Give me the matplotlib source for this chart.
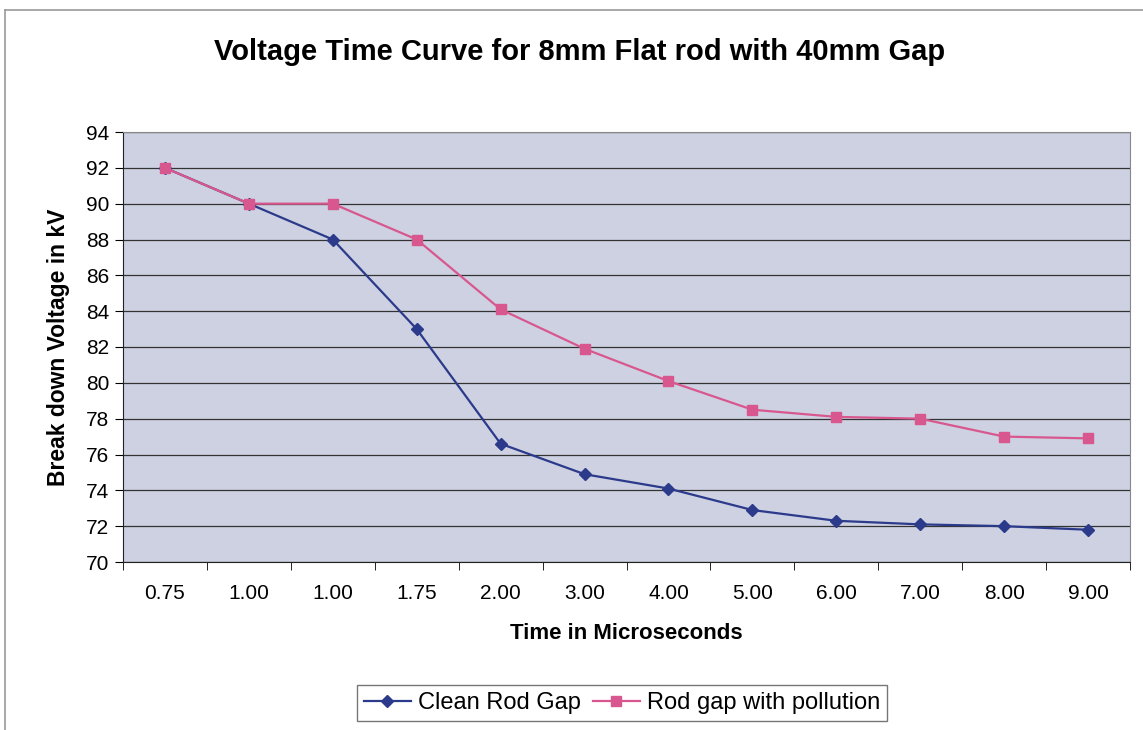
import matplotlib.pyplot as plt
from matplotlib.lines import Line2D
from matplotlib.ticker import FixedLocator, NullFormatter

plt.rcParams['font.family'] = ['Liberation Sans', 'DejaVu Sans']

time_labels = ["0.75", "1.00", "1.00", "1.75", "2.00", "3.00",
               "4.00", "5.00", "6.00", "7.00", "8.00", "9.00"]
clean_rod = [92, 90, 88, 83, 76.6, 74.9, 74.1, 72.9, 72.3, 72.1, 72.0, 71.8]
polluted_rod = [92, 90, 90, 88, 84.1, 81.9, 80.1, 78.5, 78.1, 78.0, 77.0, 76.9]

W, H = 1143, 730
fig = plt.figure(figsize=(W / 100, H / 100), dpi=100)
ax = fig.add_axes([123 / W, 1 - 562 / H, (1130 - 123) / W, (562 - 132) / H])

x = list(range(len(time_labels)))
ax.set_facecolor("#cdd1e2")
ax.plot(x, clean_rod, "-", color="#2b3a8a", lw=1.6, marker="D", markersize=6,
        label="Clean Rod Gap")
ax.plot(x, polluted_rod, "-", color="#d9578f", lw=1.6, marker="s", markersize=7,
        label="Rod gap with pollution")

ax.set_ylim(70, 94)
ax.set_yticks(range(70, 95, 2))
ax.yaxis.grid(True, color="#333333", lw=0.9)
ax.set_axisbelow(True)

ax.set_xlim(-0.5, len(time_labels) - 0.5)
ax.set_xticks(x)
ax.set_xticklabels(time_labels)
ax.xaxis.set_minor_locator(FixedLocator([i - 0.5 for i in range(len(time_labels) + 1)]))
ax.xaxis.set_minor_formatter(NullFormatter())
ax.tick_params(axis="x", which="major", length=0, pad=16, labelsize=15)
ax.tick_params(axis="x", which="minor", length=6, direction="out")
ax.tick_params(axis="y", length=6, direction="out", labelsize=15, pad=4)

for side in ["top", "right"]:
    ax.spines[side].set_color("#888888")
ax.spines["left"].set_color("#222222")
ax.spines["bottom"].set_color("#222222")

ax.set_xlabel("Time in Microseconds", fontsize=16, fontweight="bold", labelpad=14)
ax.set_ylabel("Break down Voltage in kV", fontsize=16.5, fontweight="bold", labelpad=11)
fig.text(580 / W, 1 - 52 / H, "Voltage Time Curve for 8mm Flat rod with 40mm Gap",
         ha="center", va="center", fontsize=21, fontweight="bold")

leg = fig.legend(loc="center", bbox_to_anchor=(622 / W, 1 - 703 / H), ncol=2,
                 fontsize=17, frameon=True, fancybox=False, edgecolor="#555555",
                 handlelength=2.0, columnspacing=0.5, handletextpad=0.3,
                 borderpad=0.3)
leg.get_frame().set_linewidth(1.0)

# outer chart frame
fig.add_artist(Line2D([5 / W, 5 / W], [0, 1 - 10 / H], color="#999999", lw=1.2))
fig.add_artist(Line2D([5 / W, 1], [1 - 10 / H, 1 - 10 / H], color="#999999", lw=1.2))

fig.savefig("out.png", dpi=100)
